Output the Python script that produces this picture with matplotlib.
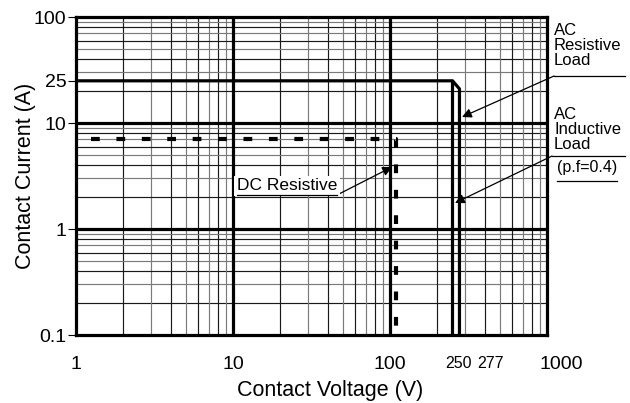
import numpy as np
import matplotlib.pyplot as plt
import matplotlib.transforms as mtransforms
from matplotlib.lines import Line2D

plt.rcParams['font.family'] = ['Liberation Sans', 'DejaVu Sans']

# curves (V, A)
ac_res_v = [1, 250, 277, 277]
ac_res_i = [25, 25, 21, 0.1]
ac_ind_v = [250, 250]
ac_ind_i = [25, 0.1]
dc_res_v = [1.25, 110, 110]
dc_res_i = [7, 7, 0.1]

x_ticks = [1, 10, 100, 250, 277, 1000]
x_ticklabels = ['1', '10', '100', '250', '277', '1000']
y_ticks = [0.1, 1, 10, 25, 100]
y_ticklabels = ['0.1', '1', '10', '25', '100']

W, H = 630, 403


def fp(x, y):
    # pixel -> figure fraction
    return (x / W, 1 - y / H)


fig = plt.figure(figsize=(W / 100, H / 100), dpi=100)
ax = fig.add_axes([76 / W, 1 - 335 / H, 471 / W, 318 / H])
ax.set_xscale('log')
ax.set_yscale('log')
ax.set_xlim(1, 1000)
ax.set_ylim(0.1, 100)

# grid
for k in range(3):
    for m in range(2, 10):
        c = '#1a1a1a' if m % 2 == 0 else '#7a7a7a'
        ax.axvline(m * 10 ** k, color=c, lw=0.85, zorder=1)
        ax.axhline(m * 10 ** (k - 1), color=c, lw=0.85, zorder=1)
for v in [10, 100]:
    ax.axvline(v, color='k', lw=2.3, zorder=2)
for v in [1, 10]:
    ax.axhline(v, color='k', lw=2.3, zorder=2)

# curves
ax.plot(ac_res_v, ac_res_i, color='k', lw=2.3, solid_joinstyle='round', zorder=3)
ax.plot(ac_ind_v, ac_ind_i, color='k', lw=2.3, zorder=3)
ax.plot(dc_res_v, dc_res_i, color='k', lw=3.0, dashes=(2.1, 4.0),
        dash_capstyle='butt', zorder=3)

for s in ax.spines.values():
    s.set_linewidth(2.3)

ax.set_xticks(x_ticks)
ax.set_xticklabels(x_ticklabels)
ax.xaxis.set_minor_locator(plt.NullLocator())
ax.set_yticks(y_ticks)
ax.set_yticklabels(y_ticklabels)
ax.yaxis.set_minor_locator(plt.NullLocator())
ax.tick_params(axis='x', length=0, pad=15, labelsize=14)
ax.tick_params(axis='y', length=6, width=0.8, pad=1, labelsize=14)

xl = ax.get_xticklabels()
shifts = {3: 6, 4: 31, 5: 14}
for i, lab in enumerate(xl):
    if i in (3, 4):
        lab.set_fontsize(11.5)
    if i in shifts:
        lab.set_transform(lab.get_transform() +
                          mtransforms.ScaledTranslation(shifts[i] / 100, 0, fig.dpi_scale_trans))

ax.set_xlabel('Contact Voltage (V)', fontsize=15.5)
ax.xaxis.set_label_coords((330 - 76) / 471, -0.143)
ax.set_ylabel('Contact Current (A)', fontsize=15.5, labelpad=-2)

# annotations
arrow = dict(arrowstyle='-|>', color='k', lw=0.9, mutation_scale=14,
             shrinkA=0, shrinkB=0)

fig.text(*fp(554, 23), 'AC\nResistive\nLoad', fontsize=12, va='top', ha='left',
         linespacing=1.0)
fig.add_artist(Line2D([554 / W, 625 / W], [1 - 76 / H] * 2, color='k', lw=0.9))
ax.annotate('', xy=fp(462, 117), xycoords='figure fraction',
            xytext=fp(554, 76), textcoords='figure fraction', arrowprops=arrow)

fig.text(*fp(554, 107), 'AC\nInductive\nLoad', fontsize=12, va='top', ha='left',
         linespacing=1.0)
fig.add_artist(Line2D([552 / W, 625 / W], [1 - 156 / H] * 2, color='k', lw=0.9))
fig.text(*fp(557, 168), '(p.f=0.4)', fontsize=11.5, va='center', ha='left')
fig.add_artist(Line2D([557 / W, 617 / W], [1 - 181 / H] * 2, color='k', lw=0.9))
ax.annotate('', xy=fp(455, 203), xycoords='figure fraction',
            xytext=fp(552, 156), textcoords='figure fraction', arrowprops=arrow)

fig.text(*fp(237, 186), 'DC Resistive', fontsize=12.5, va='center', ha='left',
         bbox=dict(facecolor='white', edgecolor='none', pad=2), zorder=5)
fig.add_artist(Line2D([237 / W, 337 / W], [1 - 195 / H] * 2, color='k', lw=0.9, zorder=6))
ax.annotate('', xy=fp(392, 167), xycoords='figure fraction',
            xytext=fp(337, 195), textcoords='figure fraction', arrowprops=arrow)

fig.savefig('out.png', dpi=100)
